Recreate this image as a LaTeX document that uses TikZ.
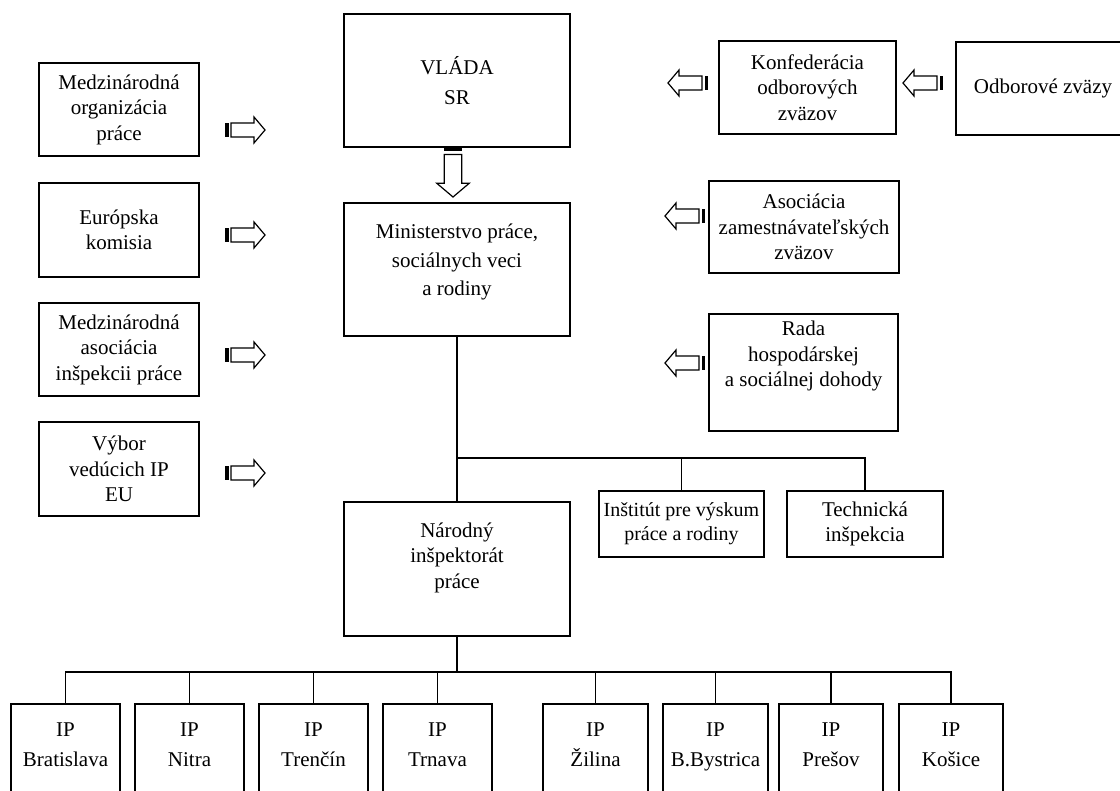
\documentclass[tikz,border=0pt]{standalone}
\usepackage{fontspec}
\setmainfont{Liberation Serif}
% hollow block arrow with a striped tail: tail x, tail y, angle, scale
\newcommand{\blockarrow}[4]{%
  \begin{scope}[shift={(#1,#2)},rotate=#3,scale=#4]
    \fill (0,-7) rectangle (3.5,7);
    \draw[fill=white] (6,-7) -- (29,-7) -- (29,-13) -- (40,0) -- (29,13) -- (29,7) -- (6,7) -- cycle;
  \end{scope}}

\begin{document}
\begin{tikzpicture}[x=1pt,y=-1pt,line width=1.2pt,
    box/.style={draw,align=center,inner sep=0pt,font=\fontsize{21}{25.5}\selectfont}]

        \clip (0,0) rectangle (1120,791);

        % Left column
        \node[box,minimum width=160,minimum height=93] (mop) at (119,109.5) {Medzinárodná\\organizácia\\práce};
        \node[box,minimum width=160,minimum height=94] (ek) at (119,230) {Európska\\komisia};
        \node[box,minimum width=160,minimum height=93] (maip) at (119,349.5) {Medzinárodná\\asociácia\\inšpekcii práce};
        \node[box,minimum width=160,minimum height=94] (vvip) at (119,469) {Výbor\\vedúcich IP\\EU};

        % Middle column
        \node[box,minimum width=226,minimum height=133] (vlada) at (457,80.5) {VLÁDA\\[4pt]SR};
        \node[box,minimum width=226,minimum height=133,text depth=19pt] (mpsvr) at (457,269.5) {Ministerstvo práce,\\[3pt]sociálnych veci\\[3pt]a rodiny};
        \node[box,minimum width=226,minimum height=134,text depth=27pt] (narodny) at (457,569) {Národný\\inšpektorát\\práce};
        \node[box,minimum width=165,minimum height=66,font=\fontsize{20}{24}\selectfont] (institut) at (681.5,524) {Inštitút pre výskum\\práce a rodiny};
        \node[box,minimum width=156,minimum height=66] (technicka) at (865,524) {Technická\\inšpekcia};

        % Right column
        \node[box,minimum width=177,minimum height=93] (konf) at (807.5,87.5) {Konfederácia\\odborových\\zväzov};
        \node[box,minimum width=174,minimum height=93] (odbor) at (1043,88.5) {Odborové zväzy};
        \node[box,minimum width=190,minimum height=92] (asoc) at (804,227) {Asociácia\\zamestnávateľských\\zväzov};
        \node[box,minimum width=189,minimum height=117,text depth=37pt] (rada) at (803.5,372.5) {Rada\\hospodárskej\\a sociálnej dohody};

        % Regional inspectorates
        \foreach \x/\w/\city [count=\i] in {65.5/109/Bratislava,189.5/109/Nitra,313.5/109/Trenčín,437.5/109/Trnava,
                                             595.5/105/Žilina,715.5/105/B.Bystrica,831/104/Prešov,951/104/Košice}
            \node[box,minimum width=\w,minimum height=96,text depth=15pt] (ip\i) at (\x,752) {IP\\[4pt]\city};

        % Tree lines
        \coordinate (bus1) at (457,458);
        \coordinate (bus2) at (457,672);
        \draw (mpsvr) -- (narodny);
        \draw (bus1) -| (technicka.north);
        \draw (institut.north) -- (institut.north |- bus1);
        \draw (narodny.south) -- (bus2);
        \foreach \i in {1,...,8}
            \draw (bus2) -| (ip\i.north);

        % Block arrows
        \foreach \y in {130,235,355,473}
            {\blockarrow{225}{\y}{0}{1}}
        \blockarrow{453}{147}{-90}{1.25}
        \blockarrow{708}{83}{180}{1}
        \blockarrow{943}{83}{180}{1}
        \blockarrow{705}{216}{180}{1}
        \blockarrow{705}{363}{180}{1}

\end{tikzpicture}
\end{document}
